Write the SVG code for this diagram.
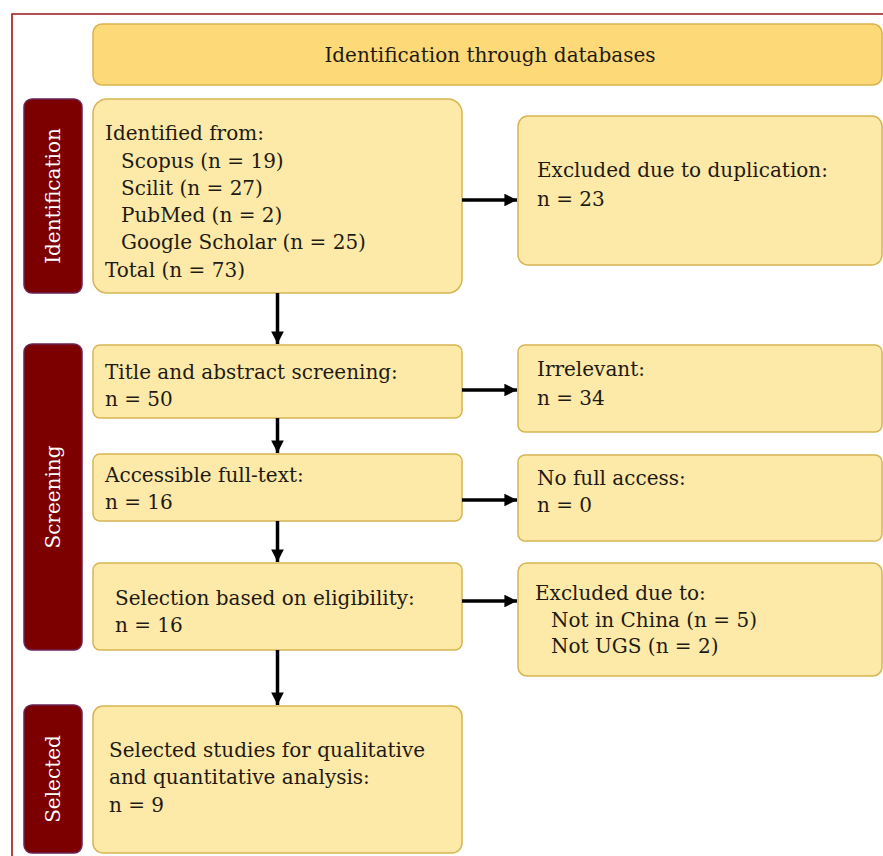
<svg xmlns="http://www.w3.org/2000/svg" width="883" height="856" viewBox="0 0 883 856">
<defs>
<style>
.box{fill:#fde9a8;stroke:#d7b552;stroke-width:1.5}
.hdr{fill:#fdd977;stroke:#d9b24c;stroke-width:1.5}
.side{fill:#7d0000;stroke:#6b2356;stroke-width:1.5}
.t{font-family:"DejaVu Serif","Liberation Serif",serif;font-size:20px;fill:#1e1a14}
.s{font-family:"DejaVu Serif","Liberation Serif",serif;font-size:20px;fill:#ffffff}
.c{stroke:#000;stroke-width:3.5;fill:none;marker-end:url(#ah)}
</style>
<marker id="ah" viewBox="0 0 10 10" refX="10" refY="5" markerWidth="3.6" markerHeight="3.6" orient="auto" markerUnits="strokeWidth">
<path d="M0,0 L10,5 L0,10 z" fill="#000"/>
</marker>
</defs>
<rect width="883" height="856" fill="#ffffff"/>
<path d="M12,856 L12,14 L883,14" fill="none" stroke="#a31515" stroke-width="1.6"/>

<g id="header">
<rect class="hdr" x="93" y="24" width="789" height="61" rx="9"/>
<text class="t" x="490" y="62" text-anchor="middle">Identification through databases</text>
</g>

<g id="label-identification">
<rect class="side" x="24" y="99" width="58" height="194" rx="8"/>
<text class="s" transform="translate(60,196) rotate(-90)" text-anchor="middle">Identification</text>
</g>
<g id="label-screening">
<rect class="side" x="24" y="344" width="58" height="306" rx="8"/>
<text class="s" transform="translate(60,497) rotate(-90)" text-anchor="middle">Screening</text>
</g>
<g id="label-selected">
<rect class="side" x="24" y="705" width="58" height="148" rx="8"/>
<text class="s" transform="translate(60,779) rotate(-90)" text-anchor="middle">Selected</text>
</g>

<g id="identified">
<rect class="box" x="93" y="99" width="369" height="194" rx="14"/>
<text class="t" x="105" y="140">Identified from:</text>
<text class="t" x="121" y="168">Scopus (n = 19)</text>
<text class="t" x="121" y="195">Scilit (n = 27)</text>
<text class="t" x="121" y="222">PubMed (n = 2)</text>
<text class="t" x="121" y="249">Google Scholar (n = 25)</text>
<text class="t" x="105" y="277">Total (n = 73)</text>
</g>
<g id="duplication">
<rect class="box" x="518" y="116" width="364" height="149" rx="10"/>
<text class="t" x="537" y="177">Excluded due to duplication:</text>
<text class="t" x="537" y="206">n = 23</text>
</g>

<g id="title-abstract">
<rect class="box" x="93" y="345" width="369" height="73" rx="7"/>
<text class="t" x="105" y="379">Title and abstract screening:</text>
<text class="t" x="105" y="406">n = 50</text>
</g>
<g id="irrelevant">
<rect class="box" x="518" y="345" width="364" height="87" rx="7"/>
<text class="t" x="537" y="376">Irrelevant:</text>
<text class="t" x="537" y="405">n = 34</text>
</g>

<g id="full-text">
<rect class="box" x="93" y="454" width="369" height="67" rx="7"/>
<text class="t" x="105" y="482">Accessible full-text:</text>
<text class="t" x="105" y="509">n = 16</text>
</g>
<g id="no-access">
<rect class="box" x="518" y="455" width="364" height="86" rx="7"/>
<text class="t" x="537" y="485">No full access:</text>
<text class="t" x="537" y="512">n = 0</text>
</g>

<g id="eligibility">
<rect class="box" x="93" y="563" width="369" height="87" rx="7"/>
<text class="t" x="115" y="605">Selection based on eligibility:</text>
<text class="t" x="115" y="632">n = 16</text>
</g>
<g id="excluded">
<rect class="box" x="518" y="563" width="364" height="113" rx="9"/>
<text class="t" x="535" y="600">Excluded due to:</text>
<text class="t" x="551" y="627">Not in China (n = 5)</text>
<text class="t" x="551" y="653">Not UGS (n = 2)</text>
</g>

<g id="selected">
<rect class="box" x="93" y="706" width="369" height="147" rx="10"/>
<text class="t" x="109" y="757">Selected studies for qualitative</text>
<text class="t" x="109" y="784">and quantitative analysis:</text>
<text class="t" x="109" y="812">n = 9</text>
</g>

<g id="connectors">
<line class="c" x1="277.5" y1="293" x2="277.5" y2="344"/>
<line class="c" x1="277.5" y1="418" x2="277.5" y2="453"/>
<line class="c" x1="277.5" y1="521" x2="277.5" y2="562"/>
<line class="c" x1="277.5" y1="650" x2="277.5" y2="705"/>
<line class="c" x1="462" y1="200" x2="517" y2="200"/>
<line class="c" x1="462" y1="390" x2="517" y2="390"/>
<line class="c" x1="462" y1="500" x2="517" y2="500"/>
<line class="c" x1="462" y1="601" x2="517" y2="601"/>
</g>
</svg>
